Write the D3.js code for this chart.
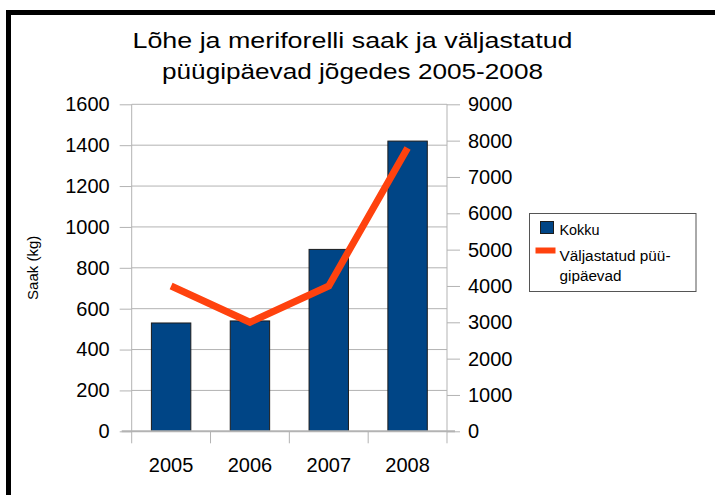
<!DOCTYPE html>
<html>
<head>
<meta charset="utf-8">
<script src="https://cdn.jsdelivr.net/npm/d3@7"></script>
<style>
  html, body { margin: 0; padding: 0; background: #fff; }
  svg { display: block; font-family: "Liberation Sans", Arial, sans-serif; }
</style>
</head>
<body>
<svg id="chart"></svg>
<script>
// data
const years = ["2005", "2006", "2007", "2008"];
const catch_kg = [530, 540, 890, 1420];
const fishingDays = [4000, 3000, 4000, 7800];
const leftTicks = [0, 200, 400, 600, 800, 1000, 1200, 1400, 1600];
const rightTicks = [0, 1000, 2000, 3000, 4000, 5000, 6000, 7000, 8000, 9000];
const titleLines = ["Lõhe ja meriforelli saak ja väljastatud", "püügipäevad jõgedes 2005-2008"];
const seriesNames = ["Kokku", "Väljastatud püü-", "gipäevad"];

const width = 715, height = 495;
const margin = { top: 104.3, right: 268, bottom: 63.7, left: 131.7 };
const innerW = width - margin.left - margin.right;
const innerH = height - margin.top - margin.bottom;

const svg = d3.select('#chart')
    .attr('width', width)
    .attr('height', height);

// frame (only top and left edges are visible in the crop)
svg.append('rect')
    .attr('x', 8.5).attr('y', 12.5)
    .attr('width', 900).attr('height', 700)
    .attr('fill', 'none')
    .attr('stroke', '#000')
    .attr('stroke-width', 5);

// title - the original text is drawn a bit wider than the font, so stretch it
let titleWidths = [440, 381];
svg.append('g')
    .attr('font-size', 22)
    .attr('text-anchor', 'middle')
    .selectAll('text')
    .data(titleLines)
    .enter()
    .append('text')
        .attr('x', 352.5)
        .attr('y', (d, i) => 48 + i * 31)
        .attr('textLength', (d, i) => titleWidths[i])
        .attr('lengthAdjust', 'spacingAndGlyphs')
        .text(d => d);

let x = d3.scaleBand()
    .domain(years)
    .range([0, innerW])
    .paddingInner(0.5)
    .paddingOuter(0.25);

let yLeft = d3.scaleLinear()
    .domain([0, 1600])
    .range([innerH, 0]);

let yRight = d3.scaleLinear()
    .domain([0, 9000])
    .range([innerH, 0]);

let main = svg.append('g')
    .attr('transform', `translate(${margin.left}, ${margin.top})`);

// gridlines
main.append('g')
    .selectAll('line')
    .data(leftTicks.slice(1))
    .enter()
    .append('line')
        .attr('x1', 0).attr('x2', innerW)
        .attr('y1', d => yLeft(d)).attr('y2', d => yLeft(d))
        .attr('stroke', '#b3b3b3')
        .attr('stroke-width', 1);

// left axis
let leftAxis = main.append('g')
    .call(d3.axisLeft(yLeft).tickValues(leftTicks).tickFormat(d3.format('d'))
        .tickSize(12).tickPadding(10));

// right axis
let rightAxis = main.append('g')
    .attr('transform', `translate(${innerW}, 0)`)
    .call(d3.axisRight(yRight).tickValues(rightTicks).tickFormat(d3.format('d'))
        .tickSize(13).tickPadding(8));

// bottom axis: ticks sit on the band boundaries
let bottomAxis = main.append('g')
    .attr('transform', `translate(0, ${innerH})`)
    .call(d3.axisBottom(x).tickSize(0).tickPadding(27));

let boundaries = d3.range(years.length + 1).map(i => i * innerW / years.length);
main.append('g')
    .selectAll('line')
    .data(boundaries)
    .enter()
    .append('line')
        .attr('x1', d => d).attr('x2', d => d)
        .attr('y1', innerH).attr('y2', innerH + 12)
        .attr('stroke', '#b3b3b3');

[leftAxis, rightAxis, bottomAxis].forEach(ax => {
    ax.select('.domain').attr('stroke', '#b3b3b3');
    ax.selectAll('.tick line').attr('stroke', '#b3b3b3');
    ax.selectAll('.tick text')
        .attr('font-size', 20)
        .attr('font-family', '"Liberation Sans", Arial, sans-serif')
        .attr('fill', '#000');
});
leftAxis.select('.domain').attr('d', `M0,0V${innerH}`);
rightAxis.select('.domain').attr('d', `M0,0V${innerH}`);
bottomAxis.select('.domain').remove();

// bars
main.append('g')
    .selectAll('rect')
    .data(catch_kg)
    .enter()
    .append('rect')
        .attr('x', (d, i) => x(years[i]))
        .attr('y', d => yLeft(d))
        .attr('width', x.bandwidth())
        .attr('height', d => innerH - yLeft(d))
        .attr('fill', '#004586')
        .attr('stroke', '#1c1c1c')
        .attr('stroke-width', 1);

// zero line
main.append('line')
    .attr('x1', -10).attr('x2', innerW + 8)
    .attr('y1', innerH).attr('y2', innerH)
    .attr('stroke', '#b3b3b3')
    .attr('stroke-width', 2);

// line series on the right scale
let line = d3.line()
    .x((d, i) => x(years[i]) + x.bandwidth() / 2)
    .y(d => yRight(d));

main.append('path')
    .datum(fishingDays)
    .attr('d', line)
    .attr('fill', 'none')
    .attr('stroke', '#ff420e')
    .attr('stroke-width', 7)
    .attr('stroke-linejoin', 'miter');

// y axis title
svg.append('text')
    .attr('transform', `translate(38, ${margin.top + innerH / 2}) rotate(-90)`)
    .attr('text-anchor', 'middle')
    .attr('font-size', 15)
    .text('Saak (kg)');

// legend
let legend = svg.append('g').attr('transform', 'translate(529.5, 213.5)');
legend.append('rect')
    .attr('width', 166.5).attr('height', 78)
    .attr('fill', '#fff')
    .attr('stroke', '#555')
    .attr('stroke-width', 1);
legend.append('rect')
    .attr('x', 11).attr('y', 8)
    .attr('width', 13).attr('height', 12)
    .attr('fill', '#004586')
    .attr('stroke', '#1c1c1c');
legend.append('line')
    .attr('x1', 6).attr('x2', 26)
    .attr('y1', 37).attr('y2', 37)
    .attr('stroke', '#ff420e')
    .attr('stroke-width', 6);
let legendWidths = [40, 111, 62];
legend.append('g')
    .attr('font-size', 14)
    .selectAll('text')
    .data(seriesNames)
    .enter()
    .append('text')
        .attr('x', 30)
        .attr('y', (d, i) => [21, 47, 67][i])
        .attr('textLength', (d, i) => legendWidths[i])
        .attr('lengthAdjust', 'spacingAndGlyphs')
        .text(d => d);
</script>
</body>
</html>
